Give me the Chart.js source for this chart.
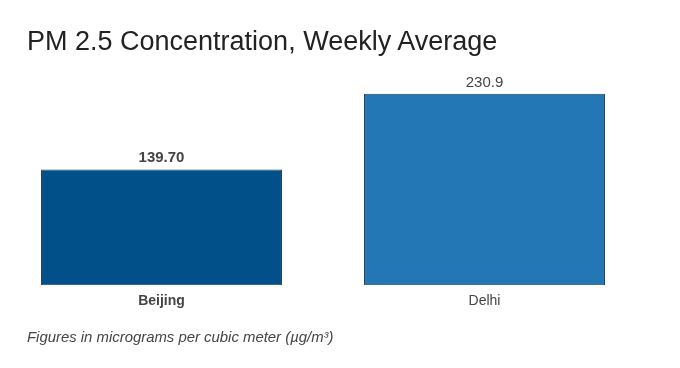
<!DOCTYPE html>
<html>
<head>
<meta charset="utf-8">
<script src="https://cdn.jsdelivr.net/npm/chart.js@4.4.0/dist/chart.umd.min.js"></script>
<style>
  body { margin:0; background:#fff; font-family:"Liberation Sans", Arial, sans-serif; }
  #wrap { position:relative; width:680px; height:368px; }
  #title { position:absolute; left:27px; top:25px; font-size:27px; line-height:32px; color:#222; white-space:nowrap; }
  #note { position:absolute; left:27px; top:329px; font-size:14.9px; line-height:17px; font-style:italic; color:#444; white-space:nowrap; }
  canvas { position:absolute; left:0; top:0; }
</style>
</head>
<body>
<div id="wrap">
  <canvas id="myChart" width="680" height="368"></canvas>
  <div id="title">PM 2.5 Concentration, Weekly Average</div>
  <div id="note">Figures in micrograms per cubic meter (µg/m³)</div>
</div>
<script>
const cities = ['Beijing', 'Delhi'];
const pm25 = [139.70, 230.9];
const valueLabels = ['139.70', '230.9'];
const barColors = ['#02508a', '#2277b4'];
const boldIndex = 0;

const barLabels = {
    id: 'barLabels',
    afterDatasetsDraw(chart) {
        let ctx = chart.ctx;
        let meta = chart.getDatasetMeta(0);
        ctx.save();
        ctx.fillStyle = '#444';
        ctx.textAlign = 'center';
        ctx.textBaseline = 'alphabetic';
        meta.data.forEach((bar, i) => {
            ctx.font = (i === boldIndex ? 'bold ' : '') + '15px "Liberation Sans", Arial, sans-serif';
            ctx.fillText(valueLabels[i], bar.x, bar.y - 7);
        });
        ctx.restore();
    }
};

const convasGraphic = () => {
    let ctx = document.getElementById('myChart').getContext('2d');
    const data = {
        labels: cities,
        datasets: [
            {
                data: pm25,
                backgroundColor: barColors,
                borderColor: '#23405e',
                borderWidth: 1,
                borderSkipped: false,
                barPercentage: 0.746,
                categoryPercentage: 1
            }
        ]
    };
    let myChart = new Chart(ctx, {
        type: 'bar',
        data: data,
        options: {
            responsive: false,
            animation: false,
            layout: { padding: { left: 0, right: 34, top: 78, bottom: 58 } },
            plugins: { legend: { display: false }, tooltip: { enabled: false } },
            scales: {
                x: {
                    grid: { display: false },
                    border: { display: false },
                    ticks: {
                        color: '#444',
                        padding: 0,
                        font: (c) => ({ size: 14, family: '"Liberation Sans", Arial, sans-serif', weight: c.index === boldIndex ? 'bold' : 'normal' })
                    }
                },
                y: { display: false, min: 0, max: 250 }
            }
        },
        plugins: [barLabels]
    });
};
convasGraphic();
</script>
</body>
</html>
